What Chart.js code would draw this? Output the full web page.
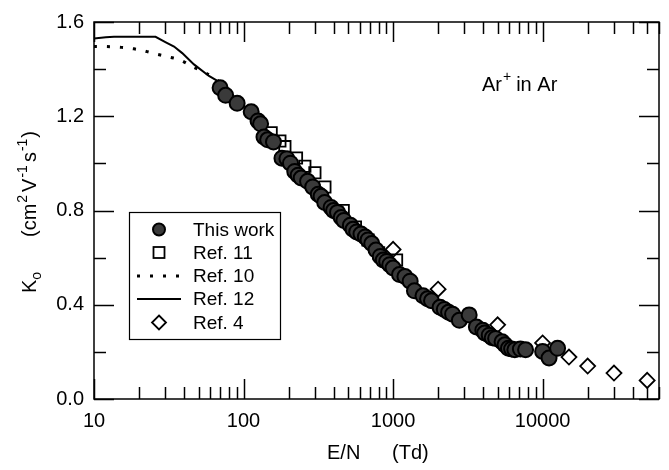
<!DOCTYPE html>
<html>
<head>
<meta charset="utf-8">
<script src="https://cdn.jsdelivr.net/npm/chart.js@4"></script>
<style>
  html, body { margin: 0; padding: 0; background: #fff; }
  #chart { display: block; }
</style>
</head>
<body>
<canvas id="chart" width="669" height="470"></canvas>
<script>
// Ar+ in Ar mobility vs E/N

const thisWorkEN = [69.7, 75.9, 90.6, 112.5, 125, 130, 137, 145, 158.5, 180.7, 195, 206, 220, 232, 243, 268, 290, 316, 330, 349, 385, 400, 425, 450, 469, 518, 540, 571, 610, 652, 680, 720, 769, 821, 860, 906, 950, 1000, 1104, 1200, 1301, 1389, 1585, 1700, 1807, 2062, 2200, 2351, 2500, 2774, 3226, 3607, 3981, 4100, 4394, 4600, 4850, 5354, 5600, 5909, 6200, 6520, 7100, 7690, 10000, 11040, 12590];
const thisWorkK = [1.321, 1.289, 1.255, 1.219, 1.18, 1.168, 1.112, 1.10, 1.091, 1.022, 1.02, 1.001, 0.966, 0.95, 0.938, 0.924, 0.90, 0.869, 0.86, 0.834, 0.813, 0.80, 0.792, 0.77, 0.758, 0.737, 0.72, 0.709, 0.70, 0.688, 0.675, 0.660, 0.632, 0.605, 0.59, 0.584, 0.57, 0.556, 0.528, 0.52, 0.500, 0.459, 0.438, 0.425, 0.417, 0.389, 0.38, 0.368, 0.36, 0.334, 0.357, 0.306, 0.292, 0.28, 0.271, 0.26, 0.257, 0.243, 0.23, 0.215, 0.212, 0.209, 0.212, 0.209, 0.202, 0.174, 0.215];

const ref11EN = [153, 175, 189, 226, 257, 300, 350, 464, 560, 680, 800, 1055];
const ref11K = [1.13, 1.095, 1.071, 1.023, 0.988, 0.96, 0.90, 0.80, 0.73, 0.675, 0.62, 0.59];

const ref10EN = [10, 12, 14, 16.7, 20.5, 25, 30.9, 37.6, 45.4, 55.7, 68];
const ref10K = [1.496, 1.496, 1.494, 1.49, 1.481, 1.467, 1.453, 1.439, 1.411, 1.384, 1.35];

const ref12EN = [10, 12, 13.6, 20, 25.8, 30, 34.3, 38.9, 46.6, 58.7, 70];
const ref12K = [1.530, 1.535, 1.537, 1.537, 1.537, 1.515, 1.496, 1.468, 1.42, 1.371, 1.343];

const ref4EN = [1000, 2000, 5000, 10000, 15000, 20000, 30000, 50000];
const ref4K = [0.635, 0.466, 0.315, 0.238, 0.178, 0.14, 0.11, 0.079];

const xTicks = [10, 100, 1000, 10000];
const yTicks = [0, 0.4, 0.8, 1.2, 1.6];
const yMinorTicks = [0.2, 0.6, 1.0, 1.4];

const legendLabels = ['This work', 'Ref. 11', 'Ref. 10', 'Ref. 12', 'Ref. 4'];

const FONT = "'Liberation Sans', Arial, Helvetica, sans-serif";

function pts(xs, ys) {
  return xs.map((x, i) => ({ x: x, y: ys[i] }));
}

function line(ctx, x1, y1, x2, y2) {
  ctx.beginPath();
  ctx.moveTo(x1, y1);
  ctx.lineTo(x2, y2);
  ctx.stroke();
}

// box, inward ticks, titles, legend and label drawn with the chart scales
const decorPlugin = {
  id: 'decor',
  afterDraw(chart) {
    const ctx = chart.ctx;
    const a = chart.chartArea;
    const xs = chart.scales.x;
    const ys = chart.scales.y;
    ctx.save();
    ctx.setLineDash([]);
    ctx.strokeStyle = '#000';
    ctx.lineWidth = 1.5;
    ctx.strokeRect(a.left, a.top, a.right - a.left, a.bottom - a.top);

    // x ticks top and bottom
    for (let d = 10; d <= 10000; d *= 10) {
      for (let m = 1; m <= 9; m++) {
        const v = d * m;
        if (v > 60000) break;
        const px = Math.round(xs.getPixelForValue(v)) + 0.5;
        const len = m === 1 ? 20 : 12;
        line(ctx, px, a.bottom, px, a.bottom - len);
        line(ctx, px, a.top, px, a.top + len);
      }
    }
    // y ticks left and right
    yTicks.concat(yMinorTicks).forEach(v => {
      const py = Math.round(ys.getPixelForValue(v)) + 0.5;
      const len = yTicks.indexOf(v) >= 0 ? 20 : 12;
      line(ctx, a.left, py, a.left + len, py);
      line(ctx, a.right, py, a.right - len, py);
    });

    ctx.fillStyle = '#000';
    ctx.textBaseline = 'alphabetic';
    ctx.textAlign = 'left';

    // x title
    ctx.font = '20px ' + FONT;
    ctx.fillText('E/N', 327, 459);
    ctx.fillText('(Td)', 392, 459);

    // annotation
    let x = 482;
    ctx.font = '20px ' + FONT;
    ctx.fillText('Ar', x, 91);
    x += ctx.measureText('Ar').width + 1;
    ctx.font = '14px ' + FONT;
    ctx.fillText('+', x, 81);
    x += ctx.measureText('+').width + 5;
    ctx.font = '20px ' + FONT;
    ctx.fillText('in Ar', x, 91);

    // y title, rotated
    ctx.save();
    ctx.translate(36, 293);
    ctx.rotate(-Math.PI / 2);
    let t = 0;
    const seg = (txt, size, dy, gap) => {
      ctx.font = size + 'px ' + FONT;
      ctx.fillText(txt, t, dy);
      t += ctx.measureText(txt).width + (gap || 0);
    };
    seg('K', 20, 0);
    seg('o', 14, 5);
    t = 56;
    seg('(cm', 20, 0, 1);
    seg('2', 14, -9, 3);
    seg('V', 20, 0, 1);
    seg('-1', 14, -9, 3);
    seg('s', 20, 0, 1);
    seg('-1', 14, -9, 1);
    seg(')', 20, 0);
    ctx.restore();

    // legend
    ctx.lineWidth = 1.2;
    ctx.strokeRect(129.5, 212.5, 151, 127);
    const rows = [229.5, 252.5, 276, 299, 322.5];
    const sx = 159;
    ctx.font = '19px ' + FONT;
    ctx.textBaseline = 'middle';
    legendLabels.forEach((lab, i) => {
      const y = rows[i];
      ctx.save();
      ctx.strokeStyle = '#000';
      if (i === 0) {
        ctx.beginPath();
        ctx.arc(sx, y, 6, 0, Math.PI * 2);
        ctx.fillStyle = '#3a3a3a';
        ctx.fill();
        ctx.lineWidth = 2;
        ctx.stroke();
      } else if (i === 1) {
        ctx.lineWidth = 1.8;
        ctx.strokeRect(sx - 5.5, y - 5.5, 11, 11);
      } else if (i === 2) {
        ctx.lineWidth = 3;
        ctx.setLineDash([3, 10]);
        line(ctx, 137, y, 181, y);
      } else if (i === 3) {
        ctx.lineWidth = 2;
        line(ctx, 137, y, 181, y);
      } else {
        ctx.lineWidth = 1.8;
        ctx.beginPath();
        ctx.moveTo(sx, y - 7); ctx.lineTo(sx + 7, y);
        ctx.lineTo(sx, y + 7); ctx.lineTo(sx - 7, y);
        ctx.closePath();
        ctx.stroke();
      }
      ctx.restore();
      ctx.fillText(lab, 193, y + 1);
    });
    ctx.restore();
  }
};

new Chart(document.getElementById('chart'), {
  type: 'scatter',
  data: {
    datasets: [
      {
        label: 'This work',
        data: pts(thisWorkEN, thisWorkK),
        pointStyle: 'circle',
        pointRadius: 7.5,
        backgroundColor: '#3a3a3a',
        borderColor: '#000',
        borderWidth: 2,
        order: 0
      },
      {
        label: 'Ref. 11',
        data: pts(ref11EN, ref11K),
        pointStyle: 'rect',
        pointRadius: 8,
        backgroundColor: 'rgba(255,255,255,0)',
        borderColor: '#000',
        borderWidth: 1.8,
        order: 2
      },
      {
        label: 'Ref. 10',
        data: pts(ref10EN, ref10K),
        showLine: true,
        pointRadius: 0,
        borderColor: '#000',
        borderWidth: 3,
        borderDash: [3, 10],
        tension: 0.3,
        order: 4
      },
      {
        label: 'Ref. 12',
        data: pts(ref12EN, ref12K),
        showLine: true,
        pointRadius: 0,
        borderColor: '#000',
        borderWidth: 2,
        tension: 0,
        order: 3
      },
      {
        label: 'Ref. 4',
        data: pts(ref4EN, ref4K),
        pointStyle: 'rectRot',
        pointRadius: 7.5,
        backgroundColor: 'rgba(255,255,255,0)',
        borderColor: '#000',
        borderWidth: 1.8,
        order: 1
      }
    ]
  },
  options: {
    responsive: false,
    animation: false,
    devicePixelRatio: 1,
    layout: { padding: { top: 15, right: 10, left: 0, bottom: 0 } },
    scales: {
      x: {
        type: 'logarithmic',
        min: 10,
        max: 60000,
        afterFit: s => { s.height = 71; },
        afterBuildTicks: s => { s.ticks = xTicks.map(v => ({ value: v })); },
        ticks: {
          color: '#000',
          font: { size: 20, family: FONT },
          padding: 10,
          maxRotation: 0,
          autoSkip: false,
          callback: v => String(v)
        },
        grid: { display: false, drawTicks: false },
        border: { display: false }
      },
      y: {
        type: 'linear',
        min: 0,
        max: 1.6,
        afterFit: s => { s.width = 94; },
        afterBuildTicks: s => { s.ticks = yTicks.map(v => ({ value: v })); },
        ticks: {
          color: '#000',
          font: { size: 20, family: FONT },
          padding: 10,
          callback: v => v.toFixed(1)
        },
        grid: { display: false, drawTicks: false },
        border: { display: false }
      }
    },
    plugins: {
      legend: { display: false },
      tooltip: { enabled: false }
    }
  },
  plugins: [decorPlugin]
});
</script>
</body>
</html>
